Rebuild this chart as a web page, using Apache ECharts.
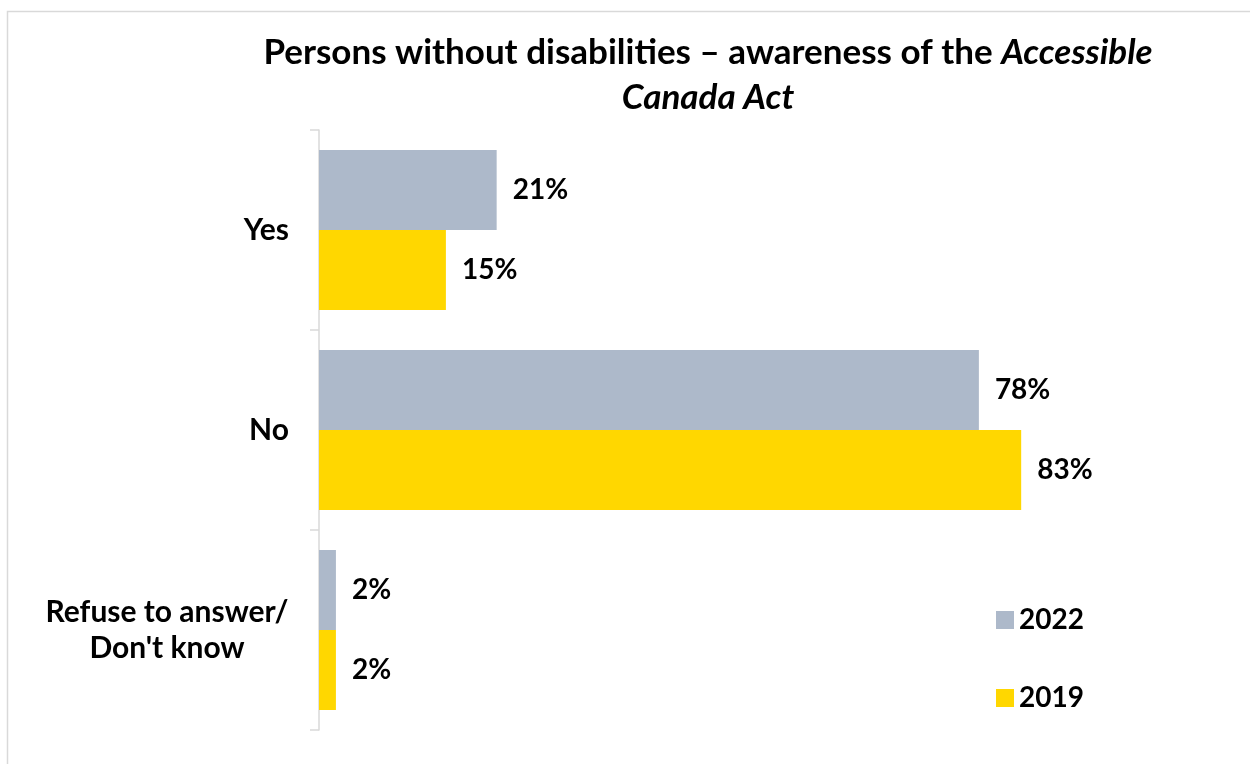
<!DOCTYPE html>
<html>
<head>
<meta charset="utf-8">
<script src="https://cdn.jsdelivr.net/npm/echarts@6/dist/echarts.min.js"></script>
<style>
  html, body { margin: 0; padding: 0; background: #fff; }
  #chart { width: 1250px; height: 764px; }
</style>
</head>
<body>
<div id="chart"></div>
<script>
// Survey answers and shares (%) per year
const categories = ['Yes', 'No', "Refuse to answer/\nDon't know"];
const values2022 = [21, 78, 2];
const values2019 = [15, 83, 2];
const seriesNames = ['2022', '2019'];
const seriesColors = ['#ADB9CA', '#FFD700'];

const FONT = 'Lato';

const chart = echarts.init(document.getElementById('chart'), null, { renderer: 'canvas' });

function valueLabel() {
  return {
    show: true,
    position: 'right',
    distance: 16,
    formatter: p => p.value + '%',
    color: '#000',
    fontFamily: FONT,
    fontWeight: 'bold',
    fontSize: 28
  };
}

chart.setOption({
  backgroundColor: '#fff',
  animation: false,
  title: {
    text: '{b|Persons without disabilities – awareness of the }{i|Accessible}\n{i|Canada Act}',
    left: 708,
    top: 30,
    padding: 0,
    textAlign: 'center',
    textStyle: {
      rich: {
        b: { fontFamily: FONT, fontWeight: 'bold', fontSize: 35, color: '#000', lineHeight: 45 },
        i: { fontFamily: FONT, fontWeight: 'bold', fontStyle: 'italic', fontSize: 35, color: '#000', lineHeight: 45 }
      }
    }
  },
  graphic: [{
    type: 'rect',
    shape: { x: 7.5, y: 11.5, width: 1400, height: 900 },
    style: { fill: 'none', stroke: '#D9D9D9', lineWidth: 1.5 },
    silent: true,
    z: -1
  }],
  legend: {
    orient: 'vertical',
    left: 996,
    top: 606,
    padding: 0,
    itemWidth: 18,
    itemHeight: 18,
    itemGap: 50,
    icon: 'rect',
    data: seriesNames,
    textStyle: {
      fontFamily: FONT,
      fontWeight: 'bold',
      fontSize: 28,
      color: '#000'
    }
  },
  grid: { left: 319, top: 130, width: 846, height: 600, containLabel: false },
  xAxis: {
    type: 'value',
    min: 0,
    max: 100,
    show: false,
    splitLine: { show: false }
  },
  yAxis: {
    type: 'category',
    inverse: true,
    data: categories,
    axisLine: { show: true, lineStyle: { color: '#D9D9D9', width: 1.5 } },
    axisTick: { show: true, length: 9, lineStyle: { color: '#D9D9D9', width: 1.5 } },
    axisLabel: {
      margin: 30,
      color: '#000',
      fontFamily: FONT,
      fontWeight: 'bold',
      fontSize: 30,
      lineHeight: 36,
      formatter: v => v.indexOf('\n') >= 0
        ? v.split('\n').map(s => '{c|' + s + '}').join('\n')
        : v,
      rich: {
        c: { width: 244, align: 'center', fontFamily: FONT, fontWeight: 'bold', fontSize: 30, lineHeight: 36, color: '#000' }
      }
    }
  },
  series: [
    {
      name: seriesNames[0],
      type: 'bar',
      data: values2022,
      itemStyle: { color: seriesColors[0] },
      barGap: '0%',
      barCategoryGap: '20%',
      label: valueLabel()
    },
    {
      name: seriesNames[1],
      type: 'bar',
      data: values2019,
      itemStyle: { color: seriesColors[1] },
      barGap: '0%',
      barCategoryGap: '20%',
      label: valueLabel()
    }
  ]
});
</script>
</body>
</html>
